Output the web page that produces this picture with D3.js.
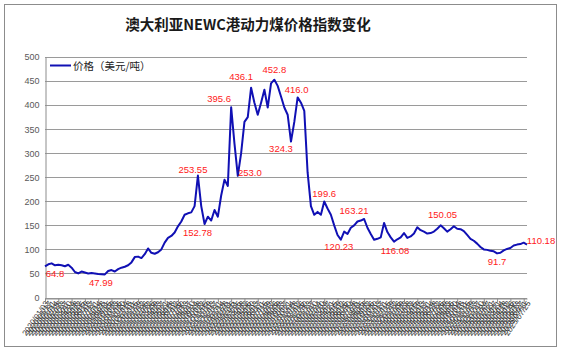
<!DOCTYPE html>
<html>
<head>
<meta charset="utf-8">
<script src="https://cdn.jsdelivr.net/npm/d3@7"></script>
<style>
  body { margin: 0; background: #fff; }
  svg { display: block; font-family: "Liberation Sans", Arial, sans-serif; }
</style>
</head>
<body>
<svg id="chart" width="565" height="352"></svg>
<script>
// biweekly price points
const startDate = new Date(2020, 0, 3);
const prices = [
  64.8, 69, 71, 67, 68, 67, 65, 68, 62, 53,
  50, 54, 52, 50, 51, 50, 49, 48.5, 47.99, 55,
  57, 54, 59, 62, 64, 67, 73, 84, 85, 82,
  90, 102, 93, 91, 94, 100, 114, 124, 128, 135,
  148, 158, 172, 175, 177, 190, 253.55, 190, 152.78, 168,
  160, 182, 168, 212, 245, 232, 395.6, 320, 253.0, 300,
  365, 375, 436.1, 405, 380, 405, 432, 395, 445, 452.8,
  440, 418, 395, 380, 324.3, 365, 416.0, 405, 388, 260,
  190, 172, 178, 172, 199.6, 185, 172, 150, 130, 120.23,
  137, 132, 145, 150, 158, 160, 163.21, 145, 132, 120,
  122, 125, 155, 136, 125, 116.08, 121, 125, 134, 124,
  127, 133, 146, 140, 137, 133, 134, 137, 143, 150.05,
  144, 137, 142, 148, 143, 142, 138, 130, 122, 118,
  112, 105, 100, 99, 97, 96, 91.7, 93, 98, 101,
  103, 108, 110, 111, 114, 110.18
];
const dates = d3.timeDay.range(startDate, new Date(2025, 6, 26), 14).slice(0, prices.length);

const yTicks = [0, 50, 100, 150, 200, 250, 300, 350, 400, 450, 500];

// annotated points: index into prices, text
const noteIdx = [0, 18, 46, 48, 56, 58, 62, 69, 76, 74, 84, 89, 96, 105, 119, 136, 145];
const noteText = ["64.8", "47.99", "253.55", "152.78", "395.6", "253.0", "436.1", "452.8", "416.0",
  "324.3", "199.6", "120.23", "163.21", "116.08", "150.05", "91.7", "110.18"];
// label offsets from the point (dx, dy)
const noteOffset = [[10, 11], [-4, 12], [-5, -3], [-7, 12], [-12, -5], [12, 0], [-10, -8], [0, -7], [-1, -4],
  [-10, 10], [0, -4], [-2, 10], [-10, -5], [1, 12], [2, -7], [0, 12], [14, -1]];

const svg = d3.select("#chart");
const plotL = 45, plotR = 527, plotT = 57, plotB = 297.5;

svg.append("rect")
  .attr("x", 4.5).attr("y", 4.5)
  .attr("width", 552).attr("height", 342)
  .attr("fill", "#fff").attr("stroke", "#8c8c8c");

svg.append("text")
  .attr("x", 248).attr("y", 30)
  .attr("text-anchor", "middle")
  .attr("font-family", "'Noto Sans CJK SC', sans-serif")
  .attr("font-size", 14.5).attr("font-weight", "bold")
  .attr("fill", "#1a1a1a")
  .text("澳大利亚NEWC港动力煤价格指数变化");

const x = d3.scalePoint().domain(d3.range(prices.length)).range([plotL, plotR]);
const y = d3.scaleLinear().domain([0, 500]).range([plotB, plotT]);

// gridlines
svg.append("g")
  .selectAll("line")
  .data(yTicks)
  .join("line")
  .attr("x1", plotL).attr("x2", plotR)
  .attr("y1", d => Math.round(y(d)) + 0.5).attr("y2", d => Math.round(y(d)) + 0.5)
  .attr("stroke", "#9a9a9a").attr("stroke-width", 1);

// y axis
const yAxis = svg.append("g")
  .attr("transform", `translate(${plotL + 0.5},0)`)
  .call(d3.axisLeft(y).tickValues(yTicks).tickSize(0).tickPadding(6));
yAxis.select(".domain").attr("stroke", "#8c8c8c");
yAxis.selectAll("text").attr("font-size", 9).attr("fill", "#595959");

// x axis labels
const fmt = d3.timeFormat("%Y/%m/%d");
const xAxis = svg.append("g")
  .attr("transform", `translate(0,${Math.round(plotB) + 0.5})`)
  .call(d3.axisBottom(x).tickSize(0).tickFormat(i => fmt(dates[i])));
xAxis.select(".domain").attr("stroke", "#8c8c8c");
xAxis.selectAll("text")
  .attr("font-size", 8).attr("fill", "#333")
  .attr("text-anchor", "end")
  .attr("x", -2).attr("y", 3).attr("dy", "0.35em")
  .attr("transform", "rotate(-55)");

// x tick marks every 4 categories
const tickAxis = svg.append("g")
  .attr("transform", `translate(0,${Math.round(plotB) + 0.5})`)
  .call(d3.axisBottom(x).tickValues(d3.range(0, prices.length, 4)).tickSize(4).tickFormat(""));
tickAxis.select(".domain").remove();
tickAxis.selectAll("line").attr("stroke", "#8c8c8c");

// price line
const line = d3.line().x((d, i) => x(i)).y(d => y(d));
svg.append("path")
  .datum(prices)
  .attr("d", line)
  .attr("fill", "none")
  .attr("stroke", "#1010b4")
  .attr("stroke-width", 2)
  .attr("stroke-linejoin", "round");

// legend
svg.append("line")
  .attr("x1", 50).attr("x2", 71).attr("y1", 65.5).attr("y2", 65.5)
  .attr("stroke", "#1010b4").attr("stroke-width", 2);
svg.append("text")
  .attr("x", 73).attr("y", 69.5)
  .attr("font-family", "'Noto Sans CJK SC', sans-serif")
  .attr("font-size", 10.5).attr("fill", "#222")
  .text("价格（美元/吨）");

// value notes
svg.append("g")
  .selectAll("text")
  .data(noteIdx)
  .join("text")
  .attr("x", (d, k) => x(d) + noteOffset[k][0])
  .attr("y", (d, k) => y(prices[d]) + noteOffset[k][1])
  .attr("text-anchor", "middle")
  .attr("font-size", 9.5)
  .attr("fill", "#ff2020")
  .text((d, k) => noteText[k]);
</script>
</body>
</html>
